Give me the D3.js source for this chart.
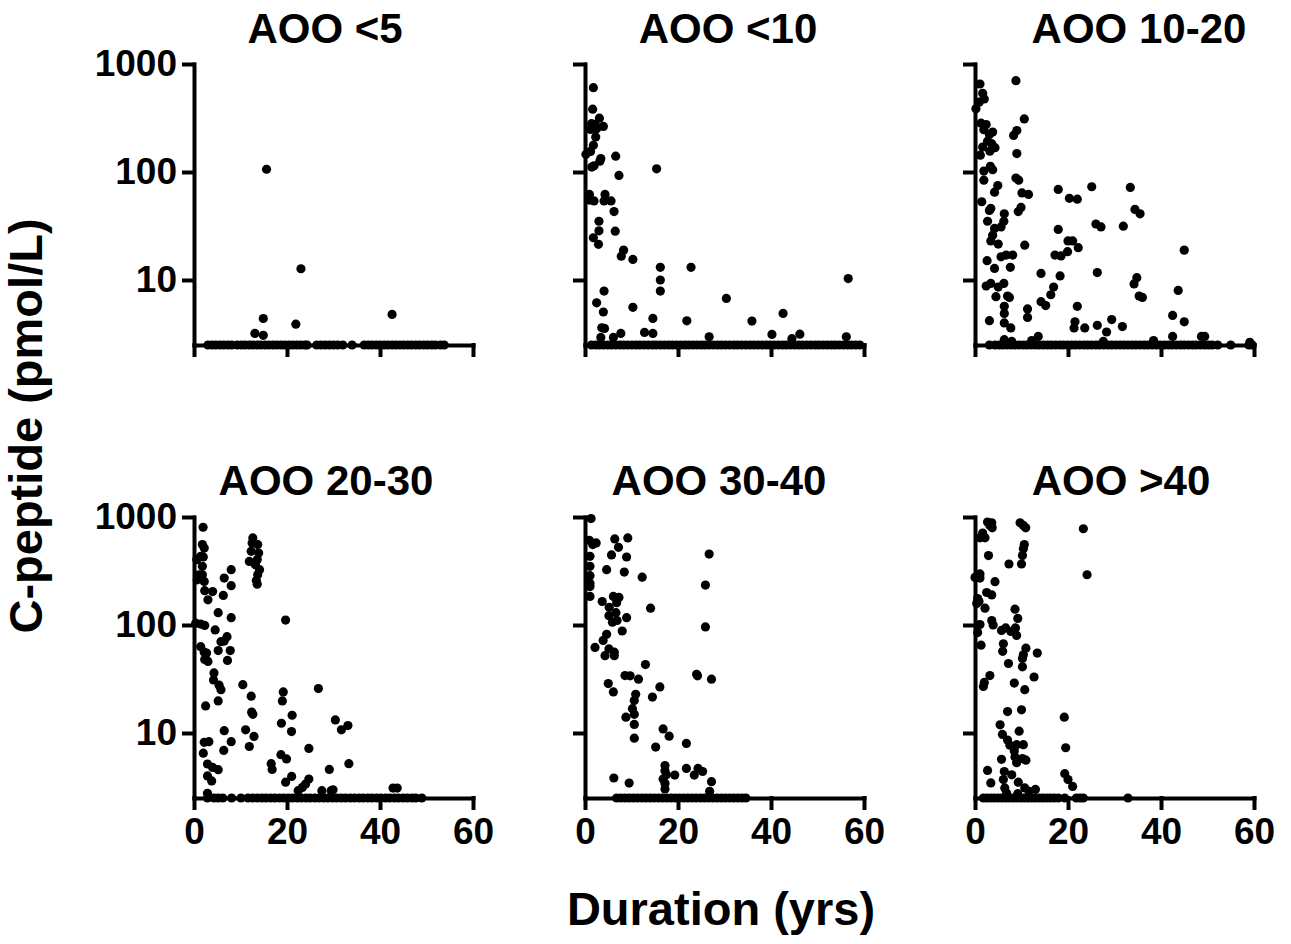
<!DOCTYPE html>
<html lang="en">
<head>
  <meta charset="UTF-8" />
  <title>C-peptide vs duration by age of onset</title>
  <script src="https://d3js.org/d3.v7.min.js"></script>
  <style>
    body { margin: 0; background: #fff; }
    svg text { font-family: "Liberation Sans", Arial, Helvetica, sans-serif; font-weight: bold; fill: #000; }
    .axis path, .axis line { stroke: #000; stroke-width: 4; stroke-linecap: square; }
    .axis text { font-size: 37px; }
    .dot { fill: #000; }
  </style>
</head>
<body>
  <div id="chart"></div>

  <script>
    // ---- data: [duration (yrs), C-peptide (pmol/L)] ----
    const panelTitles = ["AOO <5", "AOO <10", "AOO 10-20", "AOO 20-30", "AOO 30-40", "AOO >40"];
    const xTicks = [0, 20, 40, 60];
    const yTicks = [10, 100, 1000];
    const yFloor = 2.5;   // undetectable values sit on the x axis

    const aoo5 = [[15.6,106],[23.0,12.7],[14.9,4.4],[13.1,3.2],[14.9,3.07],[21.9,3.9],[42.6,4.8]];
    const aoo5Floor = [3.0,3.9,4.7,5.6,6.4,7.3,8.1,9.3,10.2,11.0,11.9,12.7,13.6,14.4,15.3,16.1,17.0,17.8,18.7,19.5,
      20.4,21.2,22.1,22.9,23.8,24.3,26.4,27.3,28.2,29.1,30.0,30.9,32.0,34.0,36.6,37.5,38.3,39.2,40.0,40.9,41.7,
      42.6,43.4,44.3,45.1,46.0,46.8,47.7,48.5,49.4,50.2,51.1,51.9,53.0,53.8];

    const aoo10 = [[1.8,603],[1.65,382],[3.1,315],[1.4,280],[2.2,276],[3.95,264],[1.2,248],[2.5,251],[2.3,211],
      [1.8,177],[1.2,155],[0.2,146],[3.4,133],[3.2,126],[6.6,140],[1.45,111],[1.95,114],[7.3,93],[15.4,107],
      [0.95,62],[0.95,55],[1.95,54],[4.3,62],[4.1,54],[5.6,54],[6.25,43],[3.0,35],[3.0,28.5],[1.8,24.6],[2.9,21.4],
      [6.5,28.3],[8.3,18.9],[7.8,16.6],[10.3,15.5],[16.2,13.1],[16.2,10],[16.2,7.9],[22.8,13.1],[56.6,10.3],
      [4.1,7.9],[2.5,6.15],[3.95,5.05],[10.3,5.58],[30.4,6.75],[14.6,4.41],[21.9,4.19],[35.9,4.16],[42.6,4.9],
      [3.6,3.61],[4.2,3.56],[7.7,3.2],[12.8,3.27],[14.6,3.2],[40.2,3.13],[46.2,3.15],[56.2,2.98],[26.7,2.98],
      [6.1,2.94],[3.4,2.94],[44.5,2.86]];
    const aoo10Floor = [1.4,2.3,3.1,4.0,4.9,5.7,6.6,7.5,8.3,9.2,10.1,11.0,11.8,12.7,13.6,14.5,15.3,16.2,17.1,18.0,
      18.8,19.7,20.6,21.5,22.3,23.2,24.1,25.0,25.8,26.7,27.6,28.5,29.3,30.2,31.1,32.0,32.8,33.7,34.6,35.5,36.3,
      37.2,38.1,39.0,39.8,40.7,41.6,42.5,43.3,44.2,45.1,46.0,46.8,47.7,48.6,49.5,50.3,51.2,52.1,53.0,53.8,54.7,
      55.6,56.5,57.3,58.2,59.1];

    const aoo1020 = [[1.07,653],[8.8,701],[1.65,536],[2.0,475],[0.2,385],[0.9,443],[10.6,310],[1.3,283],[2.4,275],
      [1.9,246],[3.8,234],[3.1,223],[9.0,242],[8.3,218],[2.7,193],[3.6,183],[4.3,168],[1.65,170],[3.2,156],
      [1.15,143],[9.0,148],[3.3,113],[1.9,102],[3.8,105],[1.9,84],[4.9,75],[4.2,65],[8.8,88],[9.4,84],[10.1,64],
      [11.5,62],[17.9,69],[20.3,57],[22.0,56],[25.1,73],[33.4,72],[34.4,45],[35.5,41],[1.45,53],[3.1,44],[3.4,46],
      [2.7,35],[6.3,41],[6.2,35],[5.6,31],[4.2,30],[9.9,47],[9.3,43],[17.9,29.4],[26.0,33],[27.1,31],[31.9,31.5],
      [3.8,26],[3.4,23],[5.0,21.5],[10.7,21],[20.0,23],[21.0,23],[22.2,19.9],[19.9,18.3],[17.2,17.0],[18.5,16.7],
      [45.0,18.9],[2.6,15.1],[5.6,16.4],[6.7,17.0],[8.1,17.0],[4.2,12.8],[7.6,13.1],[14.2,11.5],[18.3,10.9],
      [26.3,11.7],[2.4,8.8],[3.4,9.3],[6.2,9.3],[5.0,8.6],[4.5,7.0],[7.0,7.1],[7.4,6.9],[16.9,8.6],[16.3,7.3],
      [14.2,6.3],[15.2,5.8],[34.8,10.5],[34.2,9.2],[35.3,7.1],[36.0,6.9],[43.7,8.0],[6.3,5.7],[6.3,4.9],[11.3,5.4],
      [11.3,4.5],[22.0,5.7],[3.1,4.2],[6.3,4.0],[7.7,3.6],[21.5,4.1],[21.3,3.6],[23.6,3.6],[26.3,3.8],[29.4,4.3],
      [31.7,3.7],[28.3,3.3],[42.5,4.7],[45.0,4.1],[6.3,2.8],[7.9,2.7],[12.2,2.75],[13.6,3.0],[27.6,2.7],[38.4,2.75],
      [42.5,3.0],[48.7,3.0],[49.4,3.0],[59.1,2.65]];
    const aoo1020Floor = [3.1,4.3,5.2,6.0,6.9,7.8,8.6,9.5,10.4,11.2,12.1,13.0,13.8,14.7,15.6,16.4,17.3,18.2,19.0,
      19.9,20.8,21.6,22.5,23.4,24.2,25.1,26.0,26.8,27.7,28.6,29.4,30.3,31.2,32.0,32.9,33.8,34.6,35.5,36.4,37.2,
      38.1,39.0,39.8,40.7,41.6,42.4,43.3,44.2,45.0,45.9,46.8,47.6,48.5,49.4,50.2,51.0,52.2,55.0,58.9,59.6];

    const aoo2030 = [[1.95,804],[1.8,555],[2.2,516],[1.45,432],[0.6,403],[2.0,427],[1.8,349],[1.1,292],[1.8,292],
      [0.7,262],[2.2,253],[2.3,208],[4.0,204],[3.0,171],[6.3,188],[6.5,272],[8.0,325],[8.0,231],[5.2,130],[8.0,117],
      [12.65,640],[12.5,575],[13.7,555],[12.3,481],[13.9,464],[11.9,388],[13.6,403],[13.2,361],[14.1,325],
      [13.7,292],[13.4,258],[13.6,239],[19.7,111],[0.36,104],[1.45,102],[2.3,99],[4.55,90],[6.5,71],[7.1,78],
      [5.8,70],[5.2,58],[7.8,58],[7.2,47],[1.45,63],[2.2,56],[2.7,55],[2.3,48],[3.0,46],[4.3,36],[4.2,31],[5.4,27.7],
      [5.8,25.2],[10.5,28],[5.2,19.8],[2.5,17.8],[12.3,21.9],[12.4,15.6],[12.65,14.9],[19.2,24.0],[19.0,19.8],
      [26.75,25.8],[21.1,14.6],[18.8,12.3],[20.97,10.3],[30.4,13.2],[31.7,10.7],[33.1,11.7],[6.5,10.5],[11.1,10.7],
      [12.9,9.3],[8.0,8.3],[6.4,6.9],[11.9,7.5],[2.2,8.2],[3.2,8.3],[2.0,6.5],[18.7,6.3],[19.9,5.75],[24.7,7.2],
      [2.9,5.16],[4.0,4.8],[5.2,4.57],[2.9,4.0],[3.8,3.6],[16.6,5.2],[16.8,4.6],[21.0,3.96],[19.7,3.5],[33.3,5.2],
      [29.1,4.6],[24.7,3.75],[24.0,3.37],[23.3,3.13],[22.4,2.92],[27.5,2.92],[29.5,2.92],[29.9,2.98],[42.8,3.09],
      [43.7,3.09],[2.9,2.76]];
    const aoo2030Floor = [2.9,4.3,5.2,6.2,8.1,10.1,11.6,12.6,13.6,14.6,15.5,16.5,17.4,18.4,19.3,20.3,21.2,22.2,
      23.1,24.1,25.0,26.0,26.9,27.9,28.8,29.8,30.7,31.7,32.6,33.6,34.5,35.5,36.4,37.4,38.3,39.3,40.2,41.2,42.1,
      43.1,44.0,45.0,45.9,46.9,47.7,49.0];

    const aoo3040 = [[1.3,968],[0.93,608],[1.65,555],[2.4,575],[1.07,432],[1.07,349],[1.07,286],[1.07,244],[1.07,227],
      [1.07,184],[6.4,627],[9.2,640],[7.2,524],[5.7,445],[8.95,426],[4.65,325],[8.45,309],[12.3,277],[26.7,454],
      [25.9,234],[3.7,165],[6.1,184],[7.3,180],[6.8,161],[5.2,146],[6.65,130],[5.15,122],[6.9,110],[5.9,106],
      [8.95,117],[14.1,143],[8.0,88],[4.65,82],[3.9,72],[2.15,62],[5.15,60],[6.3,56],[4.3,52],[6.3,52],[25.9,96],
      [13.0,43],[8.6,34],[9.7,33.8],[11.5,31.5],[24.0,35],[24.2,33.8],[27.2,31.5],[5.0,28.7],[6.1,24.0],[16.1,26.7],
      [14.5,21.5],[10.9,22.8],[10.6,20.0],[10.2,16.8],[10.6,14.9],[8.8,14.0],[10.6,12.0],[10.6,8.95],[16.8,10.9],
      [18.1,9.35],[15.2,7.4],[21.8,8.0],[17.2,5.0],[17.2,4.48],[17.5,4.1],[19.3,4.08],[16.8,3.75],[17.2,3.4],
      [17.2,3.03],[21.8,4.7],[24.3,4.7],[25.3,4.4],[23.5,4.08],[27.2,3.54],[6.2,3.83],[9.5,3.44],[26.8,2.88]];
    const aoo3040Floor = [6.8,7.7,8.6,9.5,10.4,11.3,12.2,13.1,14.0,14.9,15.8,16.7,17.6,18.5,19.4,20.3,21.2,22.1,
      23.0,23.9,24.8,25.7,26.6,27.5,28.4,29.3,30.2,31.1,32.0,32.9,33.8,34.6];

    const aoo40 = [[2.7,898],[3.6,885],[3.2,836],[3.7,794],[9.7,885],[10.4,836],[10.9,794],[23.3,778],[1.65,710],
      [1.07,641],[2.15,641],[10.6,556],[10.4,507],[10.2,439],[2.9,439],[10.0,367],[7.3,367],[24.1,292],[0.0,276],
      [1.07,297],[1.07,272],[4.3,252],[2.5,200],[3.6,190],[0.57,176],[0.86,165],[0.36,158],[2.15,143],[8.6,140],
      [9.2,115],[3.6,110],[3.9,100],[1.07,101],[0.57,85],[5.7,89],[6.6,94],[7.7,87],[8.7,94],[8.95,80],[1.3,65],
      [6.1,67],[5.95,57],[10.95,61],[13.4,55],[10.4,53],[10.2,49],[7.2,44],[10.2,41],[3.2,34],[2.0,29.4],[1.8,27],
      [8.45,29],[12.7,33],[10.7,25.2],[7.0,15.8],[10.0,16.4],[19.2,14.0],[5.4,11.9],[9.5,10.4],[5.9,9.7],[7.0,8.6],
      [7.5,7.7],[8.95,7.8],[10.4,7.8],[8.45,6.8],[8.6,6.0],[8.95,5.3],[10.2,5.8],[10.95,5.6],[5.7,5.7],[19.5,7.3],
      [19.3,4.2],[20.0,3.7],[21.0,3.2],[2.7,4.5],[3.4,3.45],[6.3,4.4],[6.1,3.7],[7.9,4.1],[9.3,3.5],[6.4,3.1],
      [10.7,3.1],[13.0,3.0],[11.6,2.88],[9.2,2.74],[6.8,2.77]];
    const aoo40Floor = [1.8,2.6,3.4,4.2,5.0,5.8,6.6,7.4,8.2,9.0,9.8,10.6,11.4,12.2,13.0,13.8,14.6,15.4,16.2,17.0,
      17.9,19.3,21.8,22.6,23.3,32.9];

    const panelPoints = [aoo5, aoo10, aoo1020, aoo2030, aoo3040, aoo40];
    const panelFloors = [aoo5Floor, aoo10Floor, aoo1020Floor, aoo2030Floor, aoo3040Floor, aoo40Floor];

    // ---- layout ----
    const width = 1291, height = 944;
    const colX = [194, 585, 975];
    const rowY = [64, 517];
    const plotW = 279, plotH = 281;
    const titleX = [325, 728, 1139, 326, 719, 1121];
    const titleY = [43, 495];
    const dotR = 4.6;

    const svg = d3.select("#chart")
      .append("svg")
      .attr("width", width)
      .attr("height", height);

    const x = d3.scaleLinear().domain([0, 60]).range([0, plotW]);
    const y = d3.scaleLog().domain([yFloor, 1000]).range([plotH, 0]);

    panelTitles.forEach((title, i) => {
      const col = i % 3, row = Math.floor(i / 3);
      const g = svg.append("g").attr("transform", `translate(${colX[col]},${rowY[row]})`);

      // x axis: labels only on bottom row
      g.append("g")
        .attr("class", "axis")
        .attr("transform", `translate(0,${plotH})`)
        .call(d3.axisBottom(x).tickValues(xTicks).tickSize(10).tickSizeOuter(0).tickPadding(10)
          .tickFormat(row === 1 ? d3.format("d") : () => ""));

      // y axis: labels only on the left column
      g.append("g")
        .attr("class", "axis")
        .call(d3.axisLeft(y).tickValues(yTicks).tickSize(10).tickSizeOuter(0).tickPadding(7)
          .tickFormat(col === 0 ? d3.format("d") : () => ""));

      const pts = panelPoints[i].concat(panelFloors[i].map(d => [d, yFloor]));
      g.selectAll(".dot")
        .data(pts)
        .enter().append("circle")
        .attr("class", "dot")
        .attr("cx", d => x(d[0]))
        .attr("cy", d => y(d[1]))
        .attr("r", dotR);

      svg.append("text")
        .attr("x", titleX[i])
        .attr("y", titleY[row])
        .attr("text-anchor", "middle")
        .style("font-size", "42px")
        .text(title);
    });

    // axis titles
    svg.append("text")
      .attr("x", 721)
      .attr("y", 925)
      .attr("text-anchor", "middle")
      .style("font-size", "47px")
      .text("Duration (yrs)");

    svg.append("text")
      .attr("transform", "translate(42,426) rotate(-90)")
      .attr("text-anchor", "middle")
      .style("font-size", "47px")
      .text("C-peptide (pmol/L)");
  </script>
</body>
</html>
